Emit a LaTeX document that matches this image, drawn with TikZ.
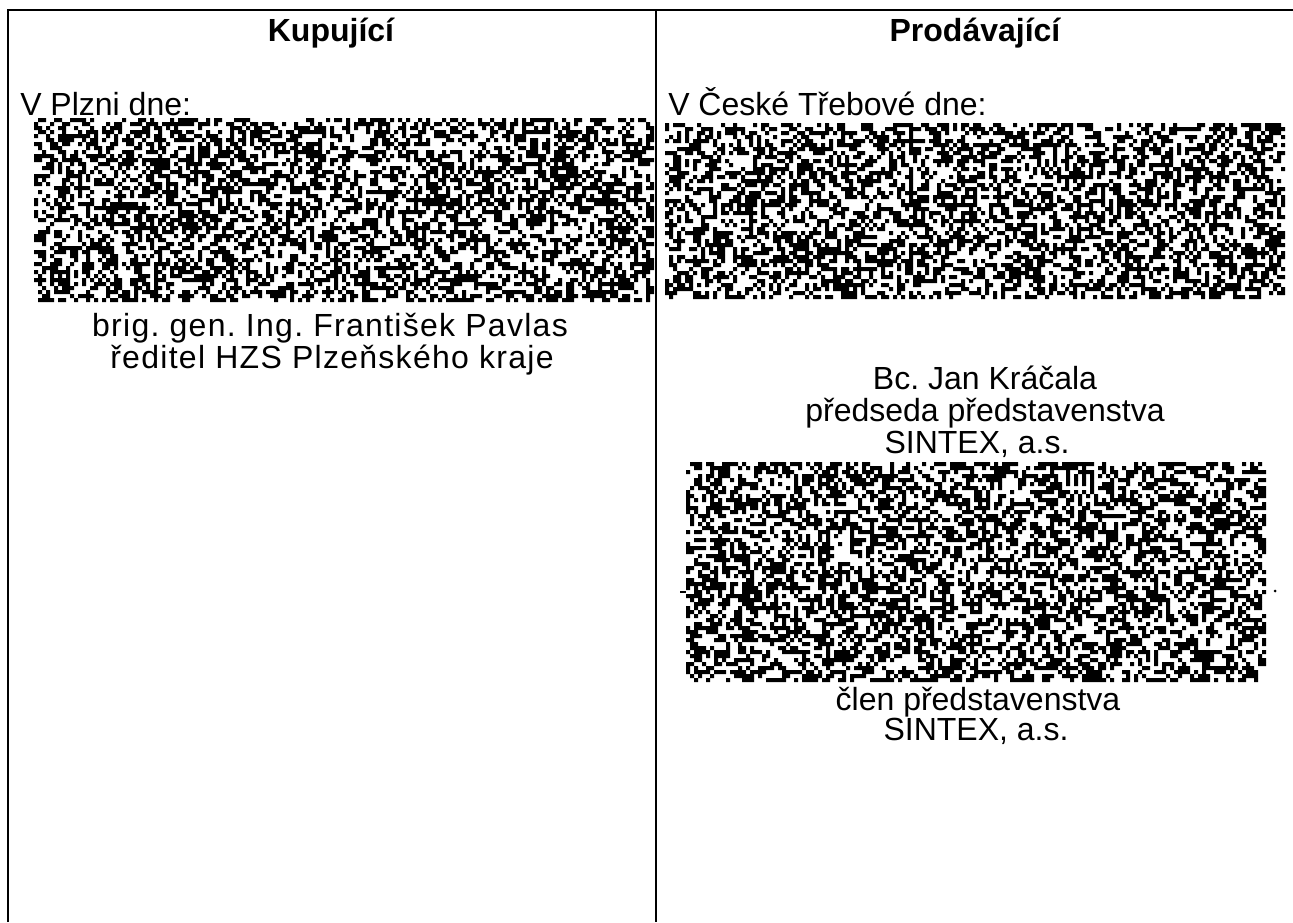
\documentclass[tikz,border=0pt]{standalone}
\usepackage{fontspec}
\setmainfont{Liberation Sans}
\frenchspacing
\newcommand{\sigfont}{\fontsize{24}{27.6}\selectfont}
\newcommand{\sigwide}{\fontsize{24}{27.6}\selectfont\addfontfeature{LetterSpace=4}}
% scrambled signature fields
\newcount\nsSeed \global\nsSeed=12345
\newcount\nsTmp
\newcount\nsCol
\newcount\nsRun
\def\nsNext{%
  \nsTmp=\numexpr\nsSeed*75+74\relax
  \global\nsSeed=\nsTmp
  \divide\nsTmp by 65537
  \multiply\nsTmp by 65537
  \global\advance\nsSeed by -\nsTmp}
\newcommand{\noiseblock}[5]{% left, top, cols, rows, cell
  \fill[white] (#1,#2) rectangle ++(#3*#5,#4*#5);
  \foreach \j in {1,...,#4}{%
    \def\nsRowPath{}%
    \def\nsAppend{\edef\nsRowPath{\nsRowPath
      (\the\numexpr#1+\nsRun*#5\relax,\the\numexpr#2+(\j-1)*#5\relax) rectangle
      (\the\numexpr#1+\nsCol*#5\relax,\the\numexpr#2+\j*#5\relax)}}%
    \nsCol=0 \nsRun=-1
    \loop\ifnum\nsCol<#3
      \nsNext
      \ifnum\nsSeed>32768
        \ifnum\nsRun<0 \nsRun=\nsCol \fi
      \else
        \ifnum\nsRun>-1 \nsAppend \nsRun=-1 \fi
      \fi
      \advance\nsCol by 1
    \repeat
    \ifnum\nsRun>-1 \nsAppend \fi
    \edef\nsDo{\noexpand\fill\nsRowPath;}\nsDo
  }}

\begin{document}
\begin{tikzpicture}[x=0.75pt,y=0.75pt,yscale=-1,xscale=1]
		\useasboundingbox (0,0) rectangle (1293,922);

		%table rules
		\draw [line width=1.5] (8,922) -- (8,10) -- (1293,10) ;
		\draw [line width=1.5] (656,10) -- (656,922) ;

		%signature line under the second field
		\draw [line width=1] (680,592) -- (1266,592) ;
		\fill (1275,591) circle [radius=1.5] ;

		%signatures
		\noiseblock{34}{118}{155}{46}{4}
		\noiseblock{665}{123}{155}{44}{4}
		\noiseblock{686}{462}{145}{55}{4}

		\draw (331,41) node [anchor=base][inner sep=0.75pt] [font=\sigfont\bfseries] (kup) {Kupující};
		\draw (975,41) node [anchor=base][inner sep=0.75pt] [font=\sigfont\bfseries] (prod) {Prodávající};

		\draw (19,115) node [anchor=base west][inner sep=0.75pt] [font=\sigfont] (kupdne) {V Plzni dne:};
		\draw (667,115) node [anchor=base west][inner sep=0.75pt] [font=\sigfont] (proddne) {V České Třebové dne:};

		\draw (330,336) node [anchor=base][inner sep=0.75pt] [font=\sigwide] (kupjm) {brig. gen. Ing. František Pavlas};
		\draw (332,368) node [anchor=base][inner sep=0.75pt] [font=\sigwide] (kupfce) {ředitel HZS Plzeňského kraje};

		\draw (985,389) node [anchor=base][inner sep=0.75pt] [font=\sigfont] (prodjm) {Bc. Jan Kráčala};
		\draw (985,421) node [anchor=base][inner sep=0.75pt] [font=\sigfont] (prodfce) {předseda představenstva};
		\draw (977,453) node [anchor=base][inner sep=0.75pt] [font=\sigfont] (prodfa) {SINTEX, a.s.};

		\draw (978,710) node [anchor=base][inner sep=0.75pt] [font=\sigfont] (clenfce) {člen představenstva};
		\draw (976,740) node [anchor=base][inner sep=0.75pt] [font=\sigfont] (clenfa) {SINTEX, a.s.};
\end{tikzpicture}
\end{document}
